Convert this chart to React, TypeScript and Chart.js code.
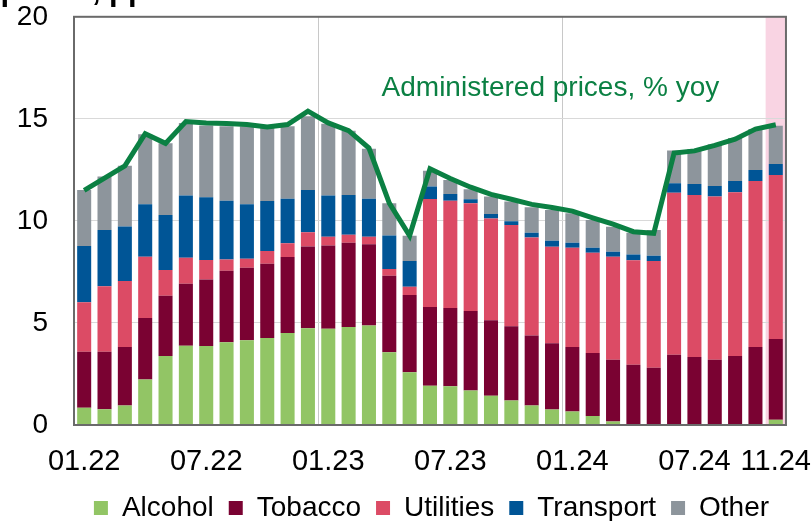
import { useEffect, useRef } from 'react';
import { Chart, registerables } from 'chart.js';

Chart.register(...registerables);

const months = [
  '01.22', '02.22', '03.22', '04.22', '05.22', '06.22', '07.22', '08.22', '09.22', '10.22', '11.22', '12.22',
  '01.23', '02.23', '03.23', '04.23', '05.23', '06.23', '07.23', '08.23', '09.23', '10.23', '11.23', '12.23',
  '01.24', '02.24', '03.24', '04.24', '05.24', '06.24', '07.24', '08.24', '09.24', '10.24', '11.24',
];
const shownTicks = ['01.22', '07.22', '01.23', '07.23', '01.24', '07.24', '11.24'];
const yearStartIndices = [12, 24];

const alcohol = [0.84, 0.77, 0.95, 2.23, 3.38, 3.88, 3.87, 4.05, 4.15, 4.26, 4.51, 4.74, 4.72, 4.8, 4.87, 3.57, 2.59, 1.92, 1.9, 1.69, 1.43, 1.2, 0.95, 0.76, 0.66, 0.44, 0.17, 0, -0.15, -0.15, -0.15, -0.1, 0, 0.05, 0.26];
const tobacco = [2.75, 2.82, 2.87, 3.01, 2.95, 3.04, 3.26, 3.51, 3.55, 3.64, 3.72, 4.01, 4.08, 4.13, 3.99, 3.74, 3.78, 3.86, 3.83, 3.9, 3.7, 3.64, 3.44, 3.25, 3.16, 3.09, 3.03, 2.95, 2.8, 3.44, 3.33, 3.2, 3.38, 3.77, 3.95];
const utilities = [2.43, 3.21, 3.24, 3.0, 1.26, 1.27, 0.95, 0.55, 0.44, 0.62, 0.67, 0.69, 0.42, 0.39, 0.36, 0.33, 0.4, 5.29, 5.26, 5.27, 4.99, 4.96, 4.8, 4.72, 4.86, 4.91, 5.04, 5.12, 5.23, 7.94, 7.94, 7.99, 8.02, 8.14, 8.04];
const transport = [2.75, 2.75, 2.66, 2.57, 2.7, 3.05, 3.08, 2.88, 2.67, 2.46, 2.19, 2.08, 2.02, 1.95, 1.87, 1.65, 1.27, 0.61, 0.33, 0.2, 0.22, 0.18, 0.23, 0.3, 0.25, 0.24, 0.25, 0.28, 0.26, 0.46, 0.54, 0.52, 0.56, 0.54, 0.54];
const other = [2.75, 2.62, 2.98, 3.43, 3.52, 3.56, 3.51, 3.65, 3.83, 3.69, 3.55, 3.61, 3.52, 3.15, 2.44, 1.58, 1.23, 0.78, 0.68, 0.49, 0.85, 0.97, 1.25, 1.51, 1.44, 1.36, 1.22, 1.07, 1.26, 1.61, 1.71, 2.05, 2.1, 2.0, 1.87];
const administered = [11.5, 12.1, 12.7, 14.27, 13.8, 14.87, 14.8, 14.77, 14.72, 14.6, 14.72, 15.38, 14.8, 14.42, 13.57, 10.87, 9.27, 12.55, 12.08, 11.65, 11.3, 11.06, 10.81, 10.66, 10.48, 10.15, 9.84, 9.47, 9.39, 13.32, 13.43, 13.7, 14.0, 14.5, 14.71];

const seriesNames = ['Alcohol', 'Tobacco', 'Utilities', 'Transport', 'Other'];
const seriesColors = ['#92c565', '#7a0232', '#dc4b65', '#005596', '#8d959c'];
const lineName = 'Administered prices, % yoy';
const lineColor = '#0b8043';
const titleText = 'Contribution to administered prices, pp';

const FONT = '"Liberation Sans", Arial, sans-serif';

export default function App() {
  const ref = useRef<HTMLCanvasElement>(null);

  useEffect(() => {
    if (!ref.current) return;
    const barSeries = [alcohol, tobacco, utilities, transport, other];

    const bandPlugin = {
      id: 'lastBand',
      beforeDraw(chart: any) {
        const { ctx, chartArea, scales } = chart;
        const x = scales.x;
        const half = (x.getPixelForValue(1) - x.getPixelForValue(0)) / 2;
        const c = x.getPixelForValue(months.length - 1);
        ctx.save();
        ctx.fillStyle = '#f9d4e3';
        ctx.fillRect(c - half, chartArea.top, half * 2, chartArea.bottom - chartArea.top);
        ctx.restore();
      },
    };

    const legendShift = {
      id: 'legendShift',
      afterLayout(chart: any) {
        const lg = chart.legend;
        if (!lg) return;
        const dx = 26;
        lg.left += dx;
        lg.right += dx;
        if (lg.legendHitBoxes) lg.legendHitBoxes.forEach((h: any) => { h.left += dx; });
      },
    };

    const framePlugin = {
      id: 'frameAndLabel',
      afterDraw(chart: any) {
        const { ctx, chartArea, scales } = chart;
        ctx.save();
        ctx.strokeStyle = '#6a6a6a';
        ctx.lineWidth = 2;
        ctx.strokeRect(chartArea.left, chartArea.top, chartArea.right - chartArea.left, chartArea.bottom - chartArea.top);
        ctx.fillStyle = lineColor;
        ctx.font = '28px ' + FONT;
        ctx.textAlign = 'left';
        ctx.textBaseline = 'alphabetic';
        ctx.fillText(lineName, scales.x.getPixelForValue(14.62), scales.y.getPixelForValue(16.1));
        ctx.restore();
      },
    };

    const chart = new Chart(ref.current, {
      type: 'bar',
      data: {
        labels: months,
        datasets: [
          ...barSeries.map((d, i) => ({
            type: 'bar' as const,
            label: seriesNames[i],
            data: d,
            backgroundColor: seriesColors[i],
            borderWidth: 0,
            order: 1,
            barPercentage: 0.69,
            categoryPercentage: 1,
          })),
          {
            type: 'line' as const,
            label: lineName,
            data: administered,
            borderColor: lineColor,
            backgroundColor: lineColor,
            borderWidth: 5,
            pointRadius: 0,
            tension: 0,
            order: 0,
            stack: 'line',
          } as any,
        ],
      },
      options: {
        animation: false,
        responsive: true,
        maintainAspectRatio: false,
        events: [],
        layout: { padding: { left: 0, right: 0, top: 0, bottom: -11 } },
        plugins: {
          legend: {
            position: 'bottom',
            labels: {
              filter: (item: any) => item.datasetIndex < 5,
              boxWidth: 14,
              boxHeight: 14,
              padding: 15,
              color: '#000',
              font: { family: FONT, size: 28 },
            },
          },
          tooltip: { enabled: false },
          title: { display: false },
        },
        scales: {
          x: {
            stacked: true,
            afterFit: (s: any) => { s.height = 54; },
            grid: {
              offset: true,
              drawTicks: true,
              tickLength: 20,
              tickColor: 'rgba(0,0,0,0)',
              color: (c: any) => (yearStartIndices.includes(c.index) ? '#c8c8c8' : 'rgba(0,0,0,0)'),
              lineWidth: 1,
            },
            border: { display: false },
            ticks: {
              autoSkip: false,
              maxRotation: 0,
              minRotation: 0,
              padding: 0,
              color: '#000',
              font: { family: FONT, size: 29 },
              callback: (_v: any, i: number) => (shownTicks.includes(months[i]) ? months[i] : ''),
            },
          },
          y: {
            stacked: true,
            min: 0,
            max: 20,
            afterFit: (s: any) => { s.width = 74; },
            grid: { color: '#d9d9d9', lineWidth: 1, drawTicks: true, tickLength: 26, tickColor: 'rgba(0,0,0,0)' },
            border: { display: false },
            ticks: {
              stepSize: 5,
              padding: 0,
              color: '#000',
              font: { family: FONT, size: 28 },
            },
          },
        },
      },
      plugins: [bandPlugin, legendShift, framePlugin],
    });
    return () => chart.destroy();
  }, []);

  return (
    <div style={{ position: 'fixed', left: 0, top: 0, width: 811, height: 521, background: '#fff', overflow: 'hidden' }}>
      <canvas ref={ref} />
      <div
        style={{
          position: 'absolute',
          right: 664,
          top: -26,
          whiteSpace: 'nowrap',
          fontFamily: FONT,
          fontWeight: 'bold',
          fontSize: 31,
          lineHeight: '31px',
          color: '#000',
        }}
      >
        {titleText}
      </div>
    </div>
  );
}
